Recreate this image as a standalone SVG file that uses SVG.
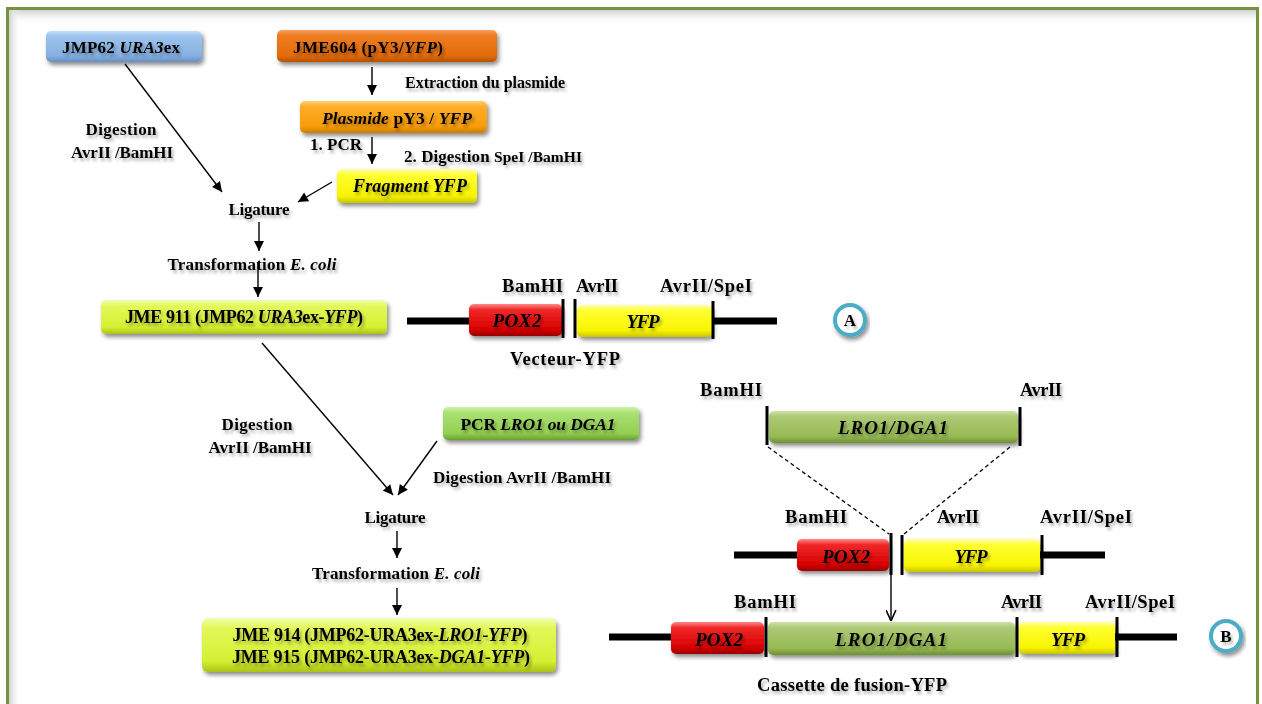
<svg xmlns="http://www.w3.org/2000/svg" width="1262" height="704" viewBox="0 0 1262 704">
<defs>
<linearGradient id="gBlue" x1="0" y1="0" x2="0" y2="1"><stop offset="0" stop-color="#c4def8"/><stop offset="0.18" stop-color="#9cc3ee"/><stop offset="0.8" stop-color="#86b0e0"/><stop offset="1" stop-color="#6590c4"/></linearGradient>
<linearGradient id="gOr1" x1="0" y1="0" x2="0" y2="1"><stop offset="0" stop-color="#f7a060"/><stop offset="0.18" stop-color="#ee7c20"/><stop offset="0.8" stop-color="#e36c0a"/><stop offset="1" stop-color="#b85200"/></linearGradient>
<linearGradient id="gOr2" x1="0" y1="0" x2="0" y2="1"><stop offset="0" stop-color="#ffd070"/><stop offset="0.18" stop-color="#ffac28"/><stop offset="0.8" stop-color="#f89c08"/><stop offset="1" stop-color="#cc7c00"/></linearGradient>
<linearGradient id="gYel" x1="0" y1="0" x2="0" y2="1"><stop offset="0" stop-color="#ffffa8"/><stop offset="0.18" stop-color="#ffff30"/><stop offset="0.8" stop-color="#f8f400"/><stop offset="1" stop-color="#c8c400"/></linearGradient>
<linearGradient id="gLime" x1="0" y1="0" x2="0" y2="1"><stop offset="0" stop-color="#f2ffb0"/><stop offset="0.18" stop-color="#e2f85a"/><stop offset="0.8" stop-color="#d4f032"/><stop offset="1" stop-color="#a8c414"/></linearGradient>
<linearGradient id="gGreen" x1="0" y1="0" x2="0" y2="1"><stop offset="0" stop-color="#cff2a8"/><stop offset="0.18" stop-color="#aae074"/><stop offset="0.8" stop-color="#92d050"/><stop offset="1" stop-color="#6aa030"/></linearGradient>
<linearGradient id="gOlive" x1="0" y1="0" x2="0" y2="1"><stop offset="0" stop-color="#cfe2a8"/><stop offset="0.18" stop-color="#acc874"/><stop offset="0.8" stop-color="#98ba54"/><stop offset="1" stop-color="#6e9030"/></linearGradient>
<linearGradient id="gRed" x1="0" y1="0" x2="0" y2="1"><stop offset="0" stop-color="#ff8a8a"/><stop offset="0.18" stop-color="#f02828"/><stop offset="0.8" stop-color="#d80000"/><stop offset="1" stop-color="#980000"/></linearGradient>
<linearGradient id="gTop" x1="0" y1="0" x2="0" y2="1"><stop offset="0" stop-color="#d0d0d0"/><stop offset="1" stop-color="#ffffff" stop-opacity="0"/></linearGradient>
<linearGradient id="gLeft" x1="0" y1="0" x2="1" y2="0"><stop offset="0" stop-color="#d0d0d0"/><stop offset="1" stop-color="#ffffff" stop-opacity="0"/></linearGradient>
<filter id="sh" x="-10%" y="-30%" width="125%" height="180%"><feDropShadow dx="2" dy="3" stdDeviation="2" flood-color="#000" flood-opacity="0.45"/></filter>
<filter id="tsh" x="-10%" y="-40%" width="125%" height="190%"><feDropShadow dx="2" dy="3" stdDeviation="1.8" flood-color="#000" flood-opacity="0.3"/></filter>
<marker id="ah" viewBox="0 0 10 10" refX="10" refY="5" markerWidth="11" markerHeight="10" markerUnits="userSpaceOnUse" orient="auto"><path d="M0,0 L10,5 L0,10 z" fill="#000"/></marker>
<marker id="av" viewBox="0 0 10 10" refX="10" refY="5" markerWidth="11" markerHeight="11" markerUnits="userSpaceOnUse" orient="auto"><path d="M0,0.5 L10,5 L0,9.5" fill="none" stroke="#000" stroke-width="1.4"/></marker>
</defs>
<style>
text{font-family:"Liberation Serif","Times New Roman",serif;font-weight:bold;fill:#000;filter:url(#tsh)}
.c{text-anchor:middle}
.b{font-size:17px}
.bl{font-size:18px}
.p{font-size:17px}
.s{font-size:18.5px}
.g{font-size:19px}
.i{font-style:italic}
.box{filter:url(#sh)}
.conn{stroke:#000;stroke-width:1.4;fill:none;marker-end:url(#ah)}
.tick{stroke:#000;stroke-width:3}
.dna{stroke:#000;stroke-width:7}
.dash{stroke:#000;stroke-width:1.3;stroke-dasharray:4 3;fill:none}
.circ{fill:#fff;stroke:#4bacc6;stroke-width:4;filter:url(#sh)}
</style>
<rect x="0" y="0" width="1262" height="704" fill="#fff"/>
<rect x="9" y="10" width="1247" height="14" fill="url(#gTop)"/>
<rect x="9" y="10" width="12" height="694" fill="url(#gLeft)"/>
<rect x="7.5" y="8.5" width="1250" height="720" fill="none" stroke="#76923c" stroke-width="3"/>

<g id="connectors">
<line class="conn" x1="372" y1="67" x2="372" y2="95"/>
<line class="conn" x1="372" y1="137" x2="372" y2="164"/>
<line class="conn" x1="125" y1="64" x2="222" y2="192"/>
<line class="conn" x1="332" y1="182" x2="298" y2="202"/>
<line class="conn" x1="259" y1="222" x2="259" y2="251"/>
<line class="conn" x1="258" y1="262" x2="258" y2="297"/>
<line class="conn" x1="262" y1="343" x2="393" y2="495"/>
<line class="conn" x1="437" y1="441" x2="398" y2="495"/>
<line class="conn" x1="397" y1="531" x2="397" y2="558"/>
<line class="conn" x1="397" y1="588" x2="397" y2="615"/>
<line x1="891" y1="574" x2="891" y2="621" stroke="#000" stroke-width="1.4" marker-end="url(#av)"/>
<line class="dash" x1="768" y1="447" x2="889" y2="534"/>
<line class="dash" x1="1010" y1="447" x2="904" y2="534"/>
</g>

<g id="jmp62">
<rect class="box" x="46" y="31" width="156" height="31" rx="5" fill="url(#gBlue)"/>
<text class="b c" x="121" y="53" textLength="118">JMP62 <tspan class="i">URA3</tspan>ex</text>
</g>
<g id="jme604">
<rect class="box" x="277" y="30" width="220" height="32" rx="5" fill="url(#gOr1)"/>
<text class="b c" x="368" y="53" textLength="150">JME604 (pY3/<tspan class="i">YFP</tspan>)</text>
</g>
<g id="lbl-extraction"><text font-size="16" x="405" y="88" textLength="160">Extraction du plasmide</text></g>
<g id="plasmide">
<rect class="box" x="300" y="101" width="187" height="32" rx="5" fill="url(#gOr2)"/>
<text class="c" font-size="17.5" x="397" y="124" textLength="150"><tspan class="i">Plasmide</tspan> pY3 / <tspan class="i">YFP</tspan></text>
</g>
<g id="lbl-pcr"><text class="p" x="310" y="150" textLength="52">1. PCR</text></g>
<g id="lbl-digest1"><text class="p" x="404" y="162" textLength="178">2. Digestion <tspan font-size="15.5">SpeI /BamHI</tspan></text></g>
<g id="fragment">
<rect class="box" x="337" y="169" width="140" height="34" rx="5" fill="url(#gYel)"/>
<text class="bl c i" x="410" y="192" textLength="114">Fragment YFP</text>
</g>
<g id="lbl-digest2">
<text class="p c" x="121" y="135" textLength="71">Digestion</text>
<text class="p c" x="122" y="158" textLength="102">AvrII /BamHI</text>
</g>
<g id="ligature1"><text class="p c" x="259" y="215" textLength="61">Ligature</text></g>
<g id="transfo1"><text class="p c" x="252" y="270" textLength="169">Transformation <tspan class="i">E. coli</tspan></text></g>
<g id="jme911">
<rect class="box" x="101" y="300" width="286" height="34" rx="5" fill="url(#gLime)"/>
<text class="bl c" x="244" y="323" textLength="238">JME 911 (JMP62 <tspan class="i">URA3</tspan>ex-<tspan class="i">YFP</tspan>)</text>
</g>

<g id="vecteur-yfp">
<line class="dna" x1="407" y1="321" x2="472" y2="321"/>
<line class="dna" x1="710" y1="321" x2="777" y2="321"/>
<rect class="box" x="469" y="304" width="93" height="32" rx="5" fill="url(#gRed)"/>
<rect class="box" x="577" y="305" width="135" height="32" rx="5" fill="url(#gYel)"/>
<line class="tick" x1="563" y1="299" x2="563" y2="338"/>
<line class="tick" x1="575" y1="299" x2="575" y2="338"/>
<line class="tick" x1="713" y1="301" x2="713" y2="339"/>
<text class="g c i" x="517" y="327" textLength="49">POX2</text>
<text class="g c i" x="643" y="328" textLength="33">YFP</text>
<text class="s" x="502" y="292" textLength="61">BamHI</text>
<text class="s" x="576" y="292" textLength="42">AvrII</text>
<text class="s" x="660" y="292" textLength="92">AvrII/SpeI</text>
<text class="s c" x="565" y="365" textLength="110">Vecteur-YFP</text>
</g>
<g id="label-a">
<circle class="circ" cx="850" cy="320" r="15"/>
<text class="b c" x="850" y="326">A</text>
</g>

<g id="lbl-digest3">
<text class="p c" x="257" y="430" textLength="71">Digestion</text>
<text class="p c" x="260" y="453" textLength="103">AvrII /BamHI</text>
</g>
<g id="pcr-lro1">
<rect class="box" x="443" y="407" width="196" height="33" rx="5" fill="url(#gGreen)"/>
<text class="c" font-size="17.5" x="538" y="430" textLength="155">PCR <tspan class="i">LRO1 ou DGA1</tspan></text>
</g>
<g id="lbl-digest4"><text class="p" x="433" y="483" textLength="178">Digestion AvrII /BamHI</text></g>
<g id="ligature2"><text class="p c" x="395" y="523" textLength="61">Ligature</text></g>
<g id="transfo2"><text class="p c" x="396" y="579" textLength="168">Transformation <tspan class="i">E. coli</tspan></text></g>
<g id="jme914-915">
<rect class="box" x="202" y="618" width="354" height="54" rx="6" fill="url(#gLime)"/>
<text class="bl c" x="380" y="641" textLength="295">JME 914 (JMP62-URA3ex-<tspan class="i">LRO1-YFP</tspan>)</text>
<text class="bl c" x="381" y="663" textLength="298">JME 915 (JMP62-URA3ex-<tspan class="i">DGA1-YFP</tspan>)</text>
</g>

<g id="insert-lro1">
<rect class="box" x="769" y="411" width="249" height="32" rx="5" fill="url(#gOlive)"/>
<line class="tick" x1="767" y1="406" x2="767" y2="445"/>
<line class="tick" x1="1020" y1="407" x2="1020" y2="446"/>
<text class="g c i" x="893" y="434" textLength="110">LRO1/DGA1</text>
<text class="s" x="700" y="396" textLength="62">BamHI</text>
<text class="s" x="1020" y="396" textLength="42">AvrII</text>
</g>

<g id="vecteur-yfp-2">
<line class="dna" x1="734" y1="555" x2="800" y2="555"/>
<line class="dna" x1="1038" y1="555" x2="1105" y2="555"/>
<rect class="box" x="797" y="539" width="92" height="32" rx="5" fill="url(#gRed)"/>
<rect class="box" x="904" y="539" width="136" height="33" rx="5" fill="url(#gYel)"/>
<line class="tick" x1="891" y1="533" x2="891" y2="575"/>
<line class="tick" x1="902" y1="535" x2="902" y2="575"/>
<line class="tick" x1="1042" y1="535" x2="1042" y2="575"/>
<text class="g c i" x="846" y="563" textLength="48">POX2</text>
<text class="g c i" x="971" y="563" textLength="33">YFP</text>
<text class="s" x="785" y="523" textLength="62">BamHI</text>
<text class="s" x="937" y="523" textLength="42">AvrII</text>
<text class="s" x="1040" y="523" textLength="92">AvrII/SpeI</text>
</g>

<g id="cassette">
<line class="dna" x1="609" y1="637" x2="674" y2="637"/>
<line class="dna" x1="1113" y1="637" x2="1177" y2="637"/>
<rect class="box" x="671" y="622" width="93" height="32" rx="5" fill="url(#gRed)"/>
<rect class="box" x="768" y="622" width="247" height="33" rx="5" fill="url(#gOlive)"/>
<rect class="box" x="1019" y="622" width="96" height="32" rx="4" fill="url(#gYel)"/>
<line class="tick" x1="766" y1="617" x2="766" y2="657"/>
<line class="tick" x1="1017" y1="617" x2="1017" y2="657"/>
<line class="tick" x1="1117" y1="617" x2="1117" y2="657"/>
<text class="g c i" x="719" y="646" textLength="48">POX2</text>
<text class="g c i" x="891" y="646" textLength="112">LRO1/DGA1</text>
<text class="g c i" x="1068" y="646" textLength="34">YFP</text>
<text class="s" x="734" y="608" textLength="62">BamHI</text>
<text class="s" x="1001" y="608" textLength="41">AvrII</text>
<text class="s" x="1085" y="608" textLength="90">AvrII/SpeI</text>
<text class="s c" x="852" y="691" textLength="190">Cassette de fusion-YFP</text>
</g>
<g id="label-b">
<circle class="circ" cx="1226" cy="636" r="15"/>
<text class="b c" x="1226" y="642">B</text>
</g>
</svg>
